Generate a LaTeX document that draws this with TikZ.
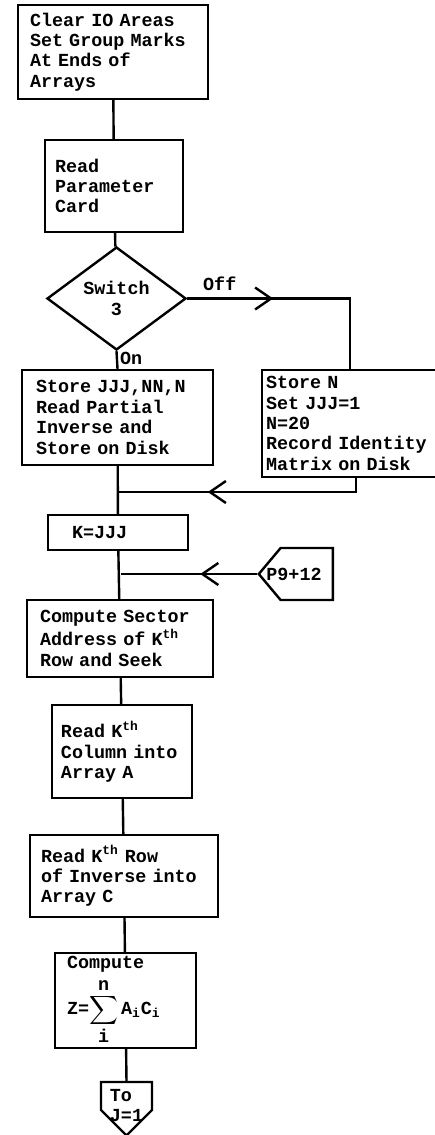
\documentclass[tikz,border=0pt]{standalone}
\usepackage{fontspec}
\setmonofont{Liberation Mono}
\usetikzlibrary{arrows.meta,shapes.geometric,shapes.symbols,decorations.markings}

% typewriter face with fixed word spaces
\DeclareRobustCommand\typewriter{\fontsize{9.2}{10.2}\selectfont\ttfamily\bfseries
  \fontdimen2\font=5.52pt\relax\fontdimen3\font=0pt\relax\fontdimen4\font=0pt\relax}

\tikzset{
  flow/.style={line width=1.2pt},
  typed/.style={font=\typewriter},
  procbox/.style={draw, flow, typed, rectangle, align=left, inner ysep=0pt},
  decbox/.style={draw, flow, typed, diamond, align=center, inner sep=0pt},
  offpage/.style={draw, flow, signal, inner sep=1pt},
  barb/.style={postaction={decorate}, decoration={markings,
    mark=at position #1 with {\arrow{Straight Barb[length=8pt,width=11pt]}}}},
}

\begin{document}
\begin{tikzpicture}[x=0.5pt,y=-0.5pt]
\useasboundingbox (0,0) rectangle (434,1135);

% main column
\node[procbox, text width=83pt, inner xsep=6pt, minimum height=47pt] (clear) at (113,52)
  {Clear IO Areas\\Set Group Marks\\At Ends of\\Arrays};
\node[procbox, text width=59pt, inner xsep=5pt, minimum height=46pt] (readpar) at (114,186)
  {Read\\Parameter\\Card};
\node[decbox, minimum width=69.5pt, minimum height=51.5pt] (sw) at (116.5,298.5)
  {Switch\\3};
\node[procbox, text width=81.5pt, inner xsep=7pt, minimum height=47.5pt] (storejjj) at (117.5,417.5)
  {Store JJJ,NN,N\\Read Partial\\Inverse and\\Store on Disk};
% runs off the right margin
\node[procbox, text width=90pt, inner xsep=2pt, minimum height=53.5pt] (storen) at (356,423.5)
  {Store N\\Set JJJ=1\\N=20\\Record Identity\\Matrix on Disk};
\node[procbox, text width=46pt, inner xsep=12pt, minimum height=17.5pt] (kjjj) at (118,532.5)
  {K=JJJ};
\node[offpage, signal to=west, signal pointer angle=100, minimum width=37pt, minimum height=26pt,
  anchor=east, label={[typed, anchor=east, inner sep=0pt, xshift=-6pt]east:P9+12}] (p9) at (334,574) {};
\node[procbox, text width=80pt, inner xsep=6.5pt, minimum height=38.5pt] (sector) at (120,638.5)
  {Compute Sector\\Address of K\textsuperscript{th}\\Row and Seek};
\node[procbox, text width=61pt, inner xsep=4.5pt, minimum height=46.5pt] (readcol) at (122,751.5)
  {Read K\textsuperscript{th}\\Column into\\Array A};
\node[procbox, text width=83pt, inner xsep=5.5pt, minimum height=41pt] (readrow) at (124,876)
  {Read K\textsuperscript{th} Row\\of Inverse into\\Array C};
\node[procbox, text width=58.5pt, inner xsep=6pt, minimum height=47.5pt] (compz) at (125.5,1000.5)
  {Compute\\[2pt]Z=$\displaystyle\sum\limits_{\mbox{i}}^{\mbox{n}}$\,A\textsubscript{i}C\textsubscript{i}};

% off-page connector at the foot
\coordinate (tojtop) at (126.5,1082);
\draw[flow] (tojtop) -- ++(25.5,0) -- ++(0,28) -- ++(-25.5,25.5) -- ++(-25.5,-25.5) -- ++(0,-28) -- cycle;
\node[typed, align=left, inner sep=0pt, anchor=north] (toj) at ([yshift=-3.5pt]tojtop) {To\\J=1};

\coordinate (j1) at (119,492);
\coordinate (j2) at (121,574);
\coordinate (offin) at ([xshift=-3pt]storen.north);

% connectors
\draw[flow] (clear) -- (readpar);
\draw[flow] (readpar) -- (sw);
\draw[flow] (sw.south) -- node[typed, pos=0.4, right, inner xsep=1pt] {On} (storejjj.north);
\draw[flow, barb=43pt] (sw.east) -- node[typed, above, pos=0.2] {Off} (sw.east -| offin) -- (offin);
\draw[flow, barb=81pt] (storen.south) |- (j1);
\draw[flow] (storejjj) -- (kjjj);
\draw[flow] (kjjj) -- (sector);
\draw[flow, barb=28.5pt] (p9.west) -- (j2);
\draw[flow] (sector) -- (readcol);
\draw[flow] (readcol) -- (readrow);
\draw[flow] (readrow) -- (compz);
\draw[flow] (compz) -- (tojtop);

\end{tikzpicture}
\end{document}
